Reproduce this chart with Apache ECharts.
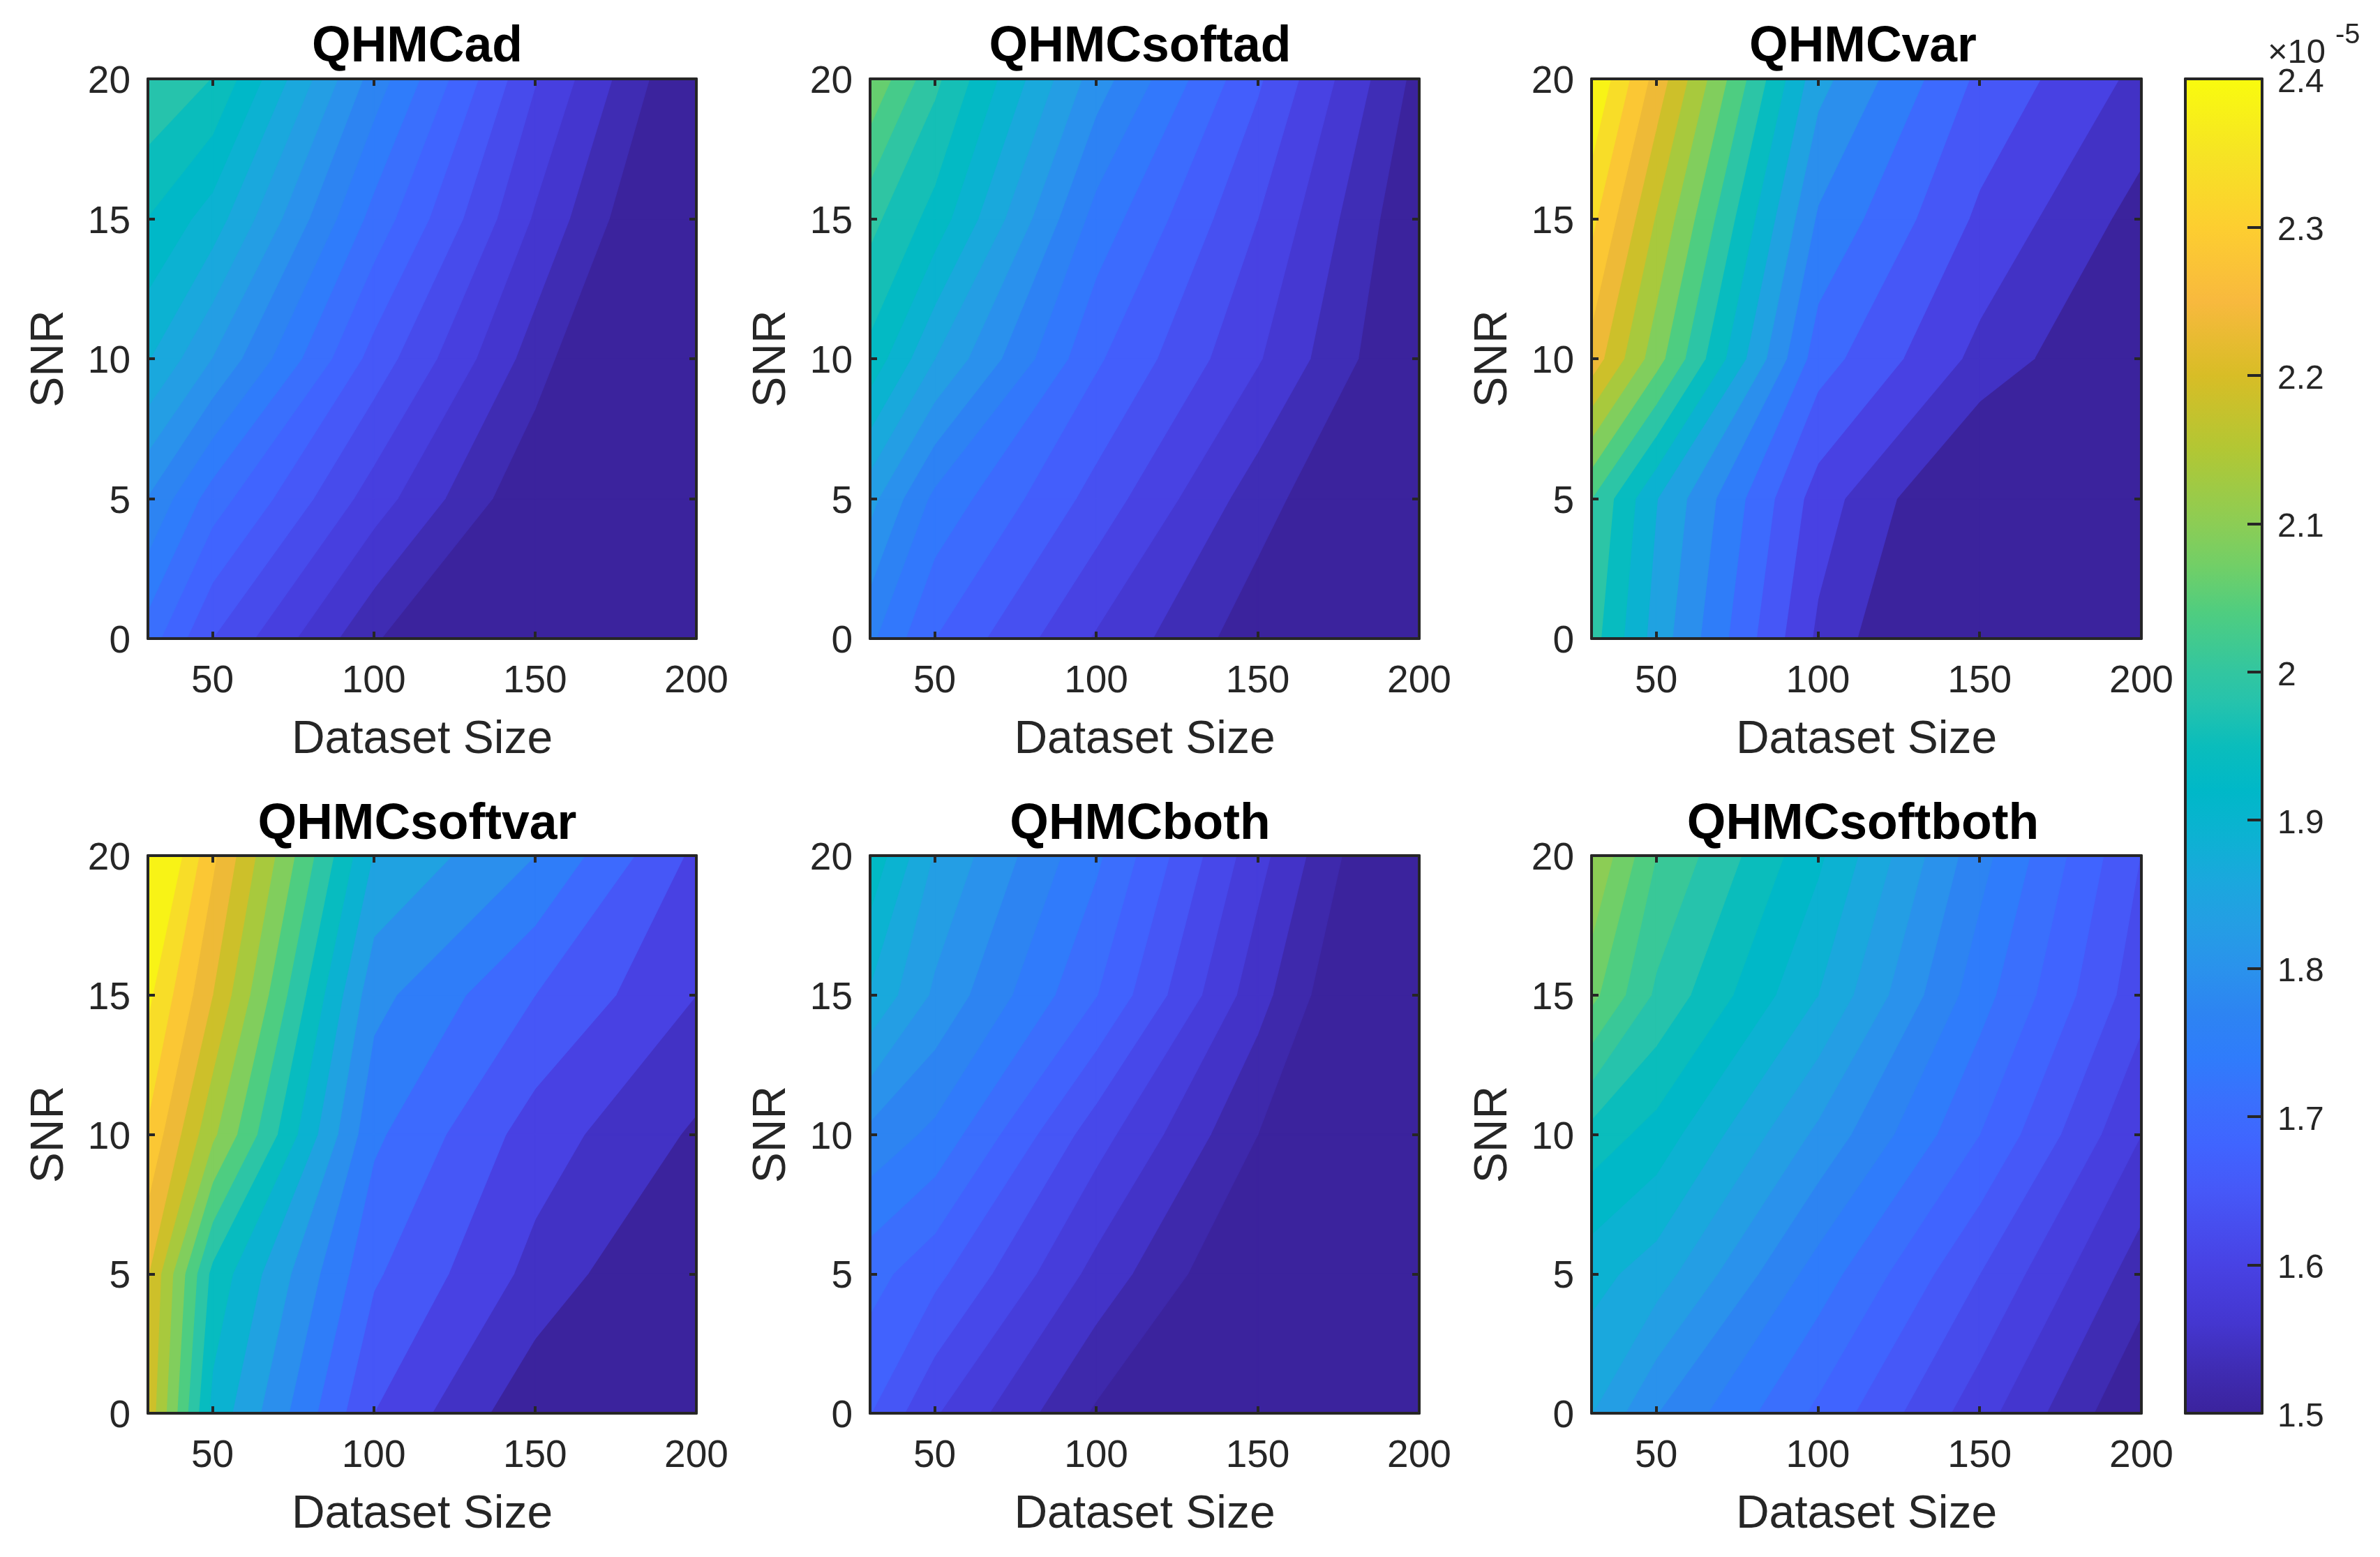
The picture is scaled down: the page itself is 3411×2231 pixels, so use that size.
<!DOCTYPE html>
<html>
<head>
<meta charset="utf-8">
<style>
html, body { margin: 0; padding: 0; background: #fff; }
#chart { width: 3411px; height: 2231px; }
</style>
<script src="https://cdn.jsdelivr.net/npm/echarts@6/dist/echarts.min.js"></script>
</head>
<body>
<div id="chart"></div>
<script>
// grid of the runs, values are in units of 1e-5, rows go SNR 0 -> 20
var datasetSizes = [30, 50, 100, 150, 200];
var snrValues = [0, 5, 10, 15, 20];

var qhmcAd = [
  [1.725, 1.650, 1.535, 1.425, 1.350],
  [1.798, 1.725, 1.605, 1.503, 1.410],
  [1.892, 1.829, 1.668, 1.545, 1.422],
  [1.949, 1.906, 1.729, 1.586, 1.464],
  [2.008, 1.979, 1.787, 1.622, 1.492]
];
var qhmcSoftAd = [
  [1.771, 1.698, 1.595, 1.512, 1.434],
  [1.841, 1.755, 1.652, 1.548, 1.464],
  [1.952, 1.863, 1.703, 1.602, 1.491],
  [2.005, 1.949, 1.751, 1.632, 1.501],
  [2.089, 2.003, 1.813, 1.670, 1.521]
];
var qhmcVar = [
  [2.010, 1.871, 1.588, 1.427, 1.353],
  [2.039, 1.894, 1.623, 1.471, 1.402],
  [2.264, 2.108, 1.718, 1.583, 1.482],
  [2.346, 2.181, 1.787, 1.637, 1.529],
  [2.431, 2.264, 1.860, 1.685, 1.584]
];
var qhmcSoftVar = [
  [2.220, 1.926, 1.647, 1.511, 1.378],
  [2.238, 1.975, 1.703, 1.582, 1.481],
  [2.325, 2.147, 1.755, 1.623, 1.541],
  [2.393, 2.235, 1.810, 1.696, 1.598],
  [2.480, 2.294, 1.889, 1.794, 1.635]
];
var qhmcBoth = [
  [1.677, 1.617, 1.516, 1.413, 1.335],
  [1.719, 1.685, 1.572, 1.482, 1.397],
  [1.791, 1.761, 1.627, 1.521, 1.422],
  [1.889, 1.825, 1.708, 1.564, 1.433],
  [1.947, 1.859, 1.744, 1.594, 1.454]
];
var qhmcSoftBoth = [
  [1.861, 1.801, 1.703, 1.602, 1.500],
  [1.901, 1.875, 1.756, 1.650, 1.543],
  [1.968, 1.938, 1.823, 1.710, 1.590],
  [2.079, 2.004, 1.890, 1.752, 1.631],
  [2.130, 2.040, 1.926, 1.781, 1.649]
];

var panelTitles = ['QHMCad', 'QHMCsoftad', 'QHMCvar', 'QHMCsoftvar', 'QHMCboth', 'QHMCsoftboth'];
var panelData = [qhmcAd, qhmcSoftAd, qhmcVar, qhmcSoftVar, qhmcBoth, qhmcSoftBoth];
var levelBases = [1.5, 1.5, 1.5, 1.5, 1.49, 1.5];
var levelSteps = [0.03, 0.033, 0.049, 0.049, 0.031, 0.03];

var xTicks = [50, 100, 150, 200];
var yTicks = [0, 5, 10, 15, 20];
var colorbarTicks = [1.5, 1.6, 1.7, 1.8, 1.9, 2, 2.1, 2.2, 2.3, 2.4];

var mapValues = [1.5, 1.53, 1.56, 1.6, 1.65, 1.68, 1.71, 1.74, 1.77, 1.8, 1.83, 1.86, 1.89, 1.92, 1.95, 1.98, 2, 2.04, 2.07, 2.1, 2.15, 2.2, 2.25, 2.3, 2.35, 2.4];
var mapColors = ['#3b239d', '#3f2cb3', '#4436cf', '#4842e4', '#4658f8', '#4064ff', '#3a6ffd', '#2f7cfb', '#2d84f2', '#2a92ec', '#249ee4',
  '#1aa8dd', '#0cb2d2', '#00b8c8', '#0abdbc', '#26c3ac', '#32c6a0', '#4fcd80', '#70cf68', '#8ccd55', '#b2c734', '#d8bd26', '#f8b93e', '#fdce30', '#f6e424', '#f9fb0e'];

var INK = '#262626';
var FONT = '"Liberation Sans", Arial, sans-serif';
var panelLefts = [212, 1247, 2281];
var panelWidths = [786, 787, 788];
var rowTops = [113, 1226];
var rowHeights = [802, 799];
var titleTops = [27, 1141];
var titleCenters = [593, 1629, 2665];

function hexToRgb(h) {
  return [parseInt(h.substr(1, 2), 16), parseInt(h.substr(3, 2), 16), parseInt(h.substr(5, 2), 16)];
}

function colorAt(v) {
  if (v <= mapValues[0]) return mapColors[0];
  var last = mapValues.length - 1;
  if (v >= mapValues[last]) return mapColors[last];
  for (var i = 0; i < last; i++) {
    if (v <= mapValues[i + 1]) {
      var t = (v - mapValues[i]) / (mapValues[i + 1] - mapValues[i]);
      var a = hexToRgb(mapColors[i]), b = hexToRgb(mapColors[i + 1]);
      return 'rgb(' + Math.round(a[0] + (b[0] - a[0]) * t) + ',' + Math.round(a[1] + (b[1] - a[1]) * t) + ',' + Math.round(a[2] + (b[2] - a[2]) * t) + ')';
    }
  }
}

// part of one grid cell where the value is at or above level
function clipCell(corners, level) {
  var out = [];
  for (var i = 0; i < corners.length; i++) {
    var a = corners[i], b = corners[(i + 1) % corners.length];
    if (a[2] >= level) out.push([a[0], a[1]]);
    if ((a[2] >= level) !== (b[2] >= level)) {
      var t = (level - a[2]) / (b[2] - a[2]);
      out.push([a[0] + (b[0] - a[0]) * t, a[1] + (b[1] - a[1]) * t]);
    }
  }
  return out;
}

function contourSeries(z, base, step, idx) {
  var max = 0;
  z.forEach(function (row) { row.forEach(function (v) { if (v > max) max = v; }); });
  var levels = [];
  for (var k = 0; base + k * step <= Math.min(max, 2.4); k++) levels.push([base + k * step]);
  return {
    type: 'custom',
    xAxisIndex: idx * 2,
    yAxisIndex: idx * 2,
    z: 2,
    silent: true,
    animation: false,
    data: levels,
    encode: { x: 0 },
    renderItem: function (params, api) {
      var level = levels[params.dataIndex][0];
      var color = colorAt(level);
      var kids = [];
      for (var j = 0; j < snrValues.length - 1; j++) {
        for (var i = 0; i < datasetSizes.length - 1; i++) {
          var cell = [
            [datasetSizes[i], snrValues[j], z[j][i]],
            [datasetSizes[i + 1], snrValues[j], z[j][i + 1]],
            [datasetSizes[i + 1], snrValues[j + 1], z[j + 1][i + 1]],
            [datasetSizes[i], snrValues[j + 1], z[j + 1][i]]
          ];
          // lowest band also covers everything under it
          var poly = params.dataIndex === 0 ? cell.map(function (c) { return [c[0], c[1]]; }) : clipCell(cell, level);
          if (poly.length < 3) continue;
          kids.push({
            type: 'polygon',
            shape: { points: poly.map(function (p) { return api.coord(p); }) },
            style: { fill: color, stroke: color, lineWidth: 1.5 }
          });
        }
      }
      return { type: 'group', children: kids };
    }
  };
}

var option = { animation: false, backgroundColor: '#fff', title: [], grid: [], xAxis: [], yAxis: [], series: [] };

panelTitles.forEach(function (name, idx) {
  var col = idx % 3, row = Math.floor(idx / 3);
  option.title.push({
    text: name, left: titleCenters[col], top: titleTops[row], textAlign: 'center',
    textStyle: { fontFamily: FONT, fontSize: 71.5, fontWeight: 'bold', color: '#000' }
  });
  option.grid.push({ left: panelLefts[col], top: rowTops[row], width: panelWidths[col], height: rowHeights[row] });

  var line = { show: true, onZero: false, lineStyle: { color: INK, width: 4 } };
  var xTick = { show: true, inside: true, length: 10, lineStyle: { color: INK, width: 4 }, customValues: xTicks };
  var yTick = { show: true, inside: true, length: 10, lineStyle: { color: INK, width: 4 }, customValues: yTicks };
  var nameStyle = { fontFamily: FONT, fontSize: 66, color: INK };
  var labelStyle = { fontFamily: FONT, fontSize: 55, color: INK };

  option.xAxis.push({
    type: 'value', gridIndex: idx, position: 'bottom', min: 30, max: 200, z: 5,
    name: 'Dataset Size', nameLocation: 'middle', nameGap: 113, nameTextStyle: nameStyle,
    axisLine: line, axisTick: xTick, splitLine: { show: false },
    axisLabel: Object.assign({ margin: 34, customValues: xTicks }, labelStyle)
  }, {
    type: 'value', gridIndex: idx, position: 'top', min: 30, max: 200, z: 5,
    axisLine: line, axisTick: xTick, splitLine: { show: false }, axisLabel: { show: false }
  });
  option.yAxis.push({
    type: 'value', gridIndex: idx, position: 'left', min: 0, max: 20, z: 5,
    name: 'SNR', nameLocation: 'middle', nameGap: 107, nameTextStyle: nameStyle,
    axisLine: line, axisTick: yTick, splitLine: { show: false },
    // small line box hung under the tick drops the digits onto it
    axisLabel: Object.assign({ margin: 25, verticalAlign: 'top', lineHeight: 10, customValues: yTicks }, labelStyle)
  }, {
    type: 'value', gridIndex: idx, position: 'right', min: 0, max: 20, z: 5,
    axisLine: line, axisTick: yTick, splitLine: { show: false }, axisLabel: { show: false }
  });
  option.series.push(contourSeries(panelData[idx], levelBases[idx], levelSteps[idx], idx));
});

// colorbar
var cbIdx = panelTitles.length;
var barLine = { show: true, onZero: false, lineStyle: { color: INK, width: 4 } };
option.grid.push({ left: 3132, top: 113, width: 110, height: 1912 });
option.xAxis.push({
  type: 'value', gridIndex: cbIdx, position: 'bottom', min: 0, max: 1, z: 5,
  axisLine: barLine, axisTick: { show: false }, axisLabel: { show: false }, splitLine: { show: false }
}, {
  type: 'value', gridIndex: cbIdx, position: 'top', min: 0, max: 1, z: 5,
  axisLine: barLine, axisTick: { show: false }, axisLabel: { show: false }, splitLine: { show: false }
});
option.yAxis.push({
  type: 'value', gridIndex: cbIdx, position: 'right', min: 1.5, max: 2.4, z: 5,
  axisLine: barLine, splitLine: { show: false },
  axisTick: { show: true, inside: true, length: 21, lineStyle: { color: INK, width: 4 }, customValues: colorbarTicks },
  axisLabel: {
    margin: 22, verticalAlign: 'top', lineHeight: 11, fontFamily: FONT, fontSize: 48, color: INK, customValues: colorbarTicks,
    formatter: function (v) { return Math.abs(v - 2) < 1e-6 ? '2' : v.toFixed(1); }
  }
}, {
  type: 'value', gridIndex: cbIdx, position: 'left', min: 1.5, max: 2.4, z: 5,
  axisLine: barLine, axisTick: { show: false }, axisLabel: { show: false }, splitLine: { show: false }
});
option.series.push({
  type: 'custom', xAxisIndex: cbIdx * 2, yAxisIndex: cbIdx * 2, z: 2, silent: true, animation: false,
  data: [[0, 2.4]],
  renderItem: function (params, api) {
    var a = api.coord([0, 2.4]), b = api.coord([1, 1.5]);
    var stops = mapValues.map(function (v, i) {
      return { offset: (2.4 - v) / 0.9, color: mapColors[i] };
    }).reverse();
    return {
      type: 'rect',
      shape: { x: a[0], y: a[1], width: b[0] - a[0], height: b[1] - a[1] },
      style: { fill: new echarts.graphic.LinearGradient(0, 0, 0, 1, stops) }
    };
  }
});
option.title.push({
  text: '\u00d710', left: 3245, top: 47,
  textStyle: { fontFamily: FONT, fontSize: 49, fontWeight: 'normal', color: INK }
}, {
  text: '-5', left: 3342, top: 26,
  textStyle: { fontFamily: FONT, fontSize: 40, fontWeight: 'normal', color: INK }
});

var chart = echarts.init(document.getElementById('chart'));
chart.setOption(option);
</script>
</body>
</html>
